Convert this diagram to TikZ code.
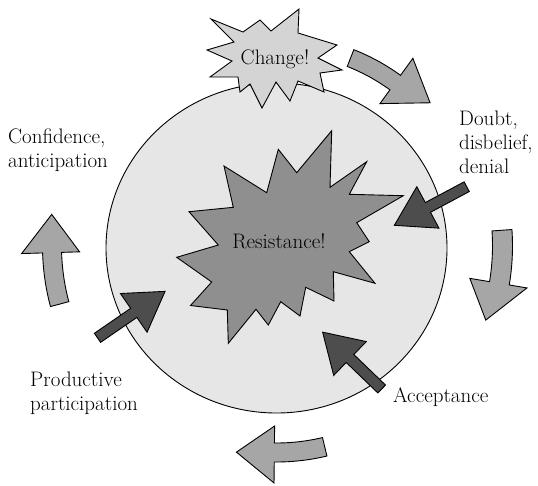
\documentclass[tikz,border=0pt]{standalone}
\definecolor{ringfill}{HTML}{E6E6E6}
\definecolor{flashfill}{HTML}{D4D4D4}
\definecolor{corefill}{HTML}{8F8F8F}
\definecolor{turnfill}{HTML}{A6A6A6}
\definecolor{pushfill}{HTML}{4D4D4D}
% curved block arrow round the ring centre (C):
% #1 tail angle, #2 head-base angle, #3 tip angle,
% #4 outer shaft radius, #5 inner shaft radius,
% #6 outer head radius, #7 inner head radius, #8 tip radius
\newcommand\bendarrow[8]{%
  \draw[outline, fill=turnfill, shift={(C)}]
    (#1:#4pt) arc[start angle=#1, end angle=#2, radius=#4pt]
    -- (#2:#6pt) -- (#3:#8pt) -- (#2:#7pt) -- (#2:#5pt)
    arc[start angle=#2, end angle=#1, radius=#5pt] -- cycle;}
% straight block arrow: #1 tail point, #2 direction, #3 length
\newcommand\pusharrow[3]{%
  \draw[outline, fill=pushfill, shift={#1}, rotate=#2]
    (0pt,-5.5pt) -- (#3pt-38pt,-5.5pt) -- (#3pt-38pt,-23.5pt) -- (#3pt,0pt)
    -- (#3pt-38pt,23.5pt) -- (#3pt-38pt,5.5pt) -- (0pt,5.5pt) -- cycle;}
\begin{document}
\begin{tikzpicture}[x=1pt,y=-1pt,
  outline/.style={draw=black, line width=0.9pt, line join=miter},
  caption/.style={font=\rmfamily\fontsize{21}{24}\selectfont, inner sep=0pt, align=left}]
\useasboundingbox (0,0) rectangle (538,485);
\coordinate (C) at (276.5,246);

% the ring
\draw[outline, fill=ringfill] (276.5,248) ellipse[x radius=170.5pt, y radius=165pt];

% starburst on top of the ring
\draw[outline, fill=flashfill]
  (211,19) -- (243,32) -- (260,20) -- (271,31) -- (299,9) -- (298,33)
  -- (337,45) -- (318,58) -- (342,70) -- (320,73) -- (324,92) -- (298,81)
  -- (290,101) -- (276,82) -- (262,108) -- (250,84) -- (240,92) -- (238,77)
  -- (210,77) -- (232,61) -- (207,50) -- (234,42) -- cycle;

% central starburst
\draw[outline, fill=corefill]
  (224,166) -- (266.7,192.7) -- (278.3,149.3) -- (296.7,172.7) -- (331.7,130.7)
  -- (330,187.3) -- (366.7,161.7) -- (349.3,194.3) -- (403.3,195.7)
  -- (356.7,222.7) -- (369.3,241.7) -- (349.3,251.7) -- (375,283.3)
  -- (333.3,271.7) -- (334,301) -- (305.7,287.3) -- (300,316) -- (280.7,301.7)
  -- (268.3,325) -- (256,309.3) -- (228.3,343.3) -- (227.3,310) -- (190.5,305.5)
  -- (211.7,282) -- (176.7,257.3) -- (218.3,245) -- (189,211.7) -- (233.3,207.3)
  -- cycle;

% pushing arrows
\pusharrow{(466.7,186.7)}{208.1}{82}
\pusharrow{(97.5,337.8)}{34.5}{82}
\pusharrow{(381.7,389)}{136.1}{82}

% cycle arrows round the ring
\bendarrow{68.5}{54}{43}{211}{193}{232}{176}{210}
\bendarrow{4}{-9.5}{-19.5}{236}{216}{254}{196}{222}
\bendarrow{-76.5}{-90.6}{-101}{216}{197}{237}{180}{210}
\bendarrow{195}{181.7}{172}{234}{215}{255}{197}{227}

% captions
\node[caption, anchor=base] (change) at (275,64) {Change!};
\node[caption, anchor=base] (resist) at (279,248) {Resistance!};
\node[caption, anchor=north west] (confidence) at (8,128.7) {Confidence,\\anticipation};
\node[caption, anchor=north west] (doubt) at (459,110.7) {Doubt,\\disbelief,\\denial};
\node[caption, anchor=north west] (productive) at (30,371.7) {Productive\\participation};
\node[caption, anchor=base west] (accept) at (393,402) {Acceptance};
\end{tikzpicture}
\end{document}
